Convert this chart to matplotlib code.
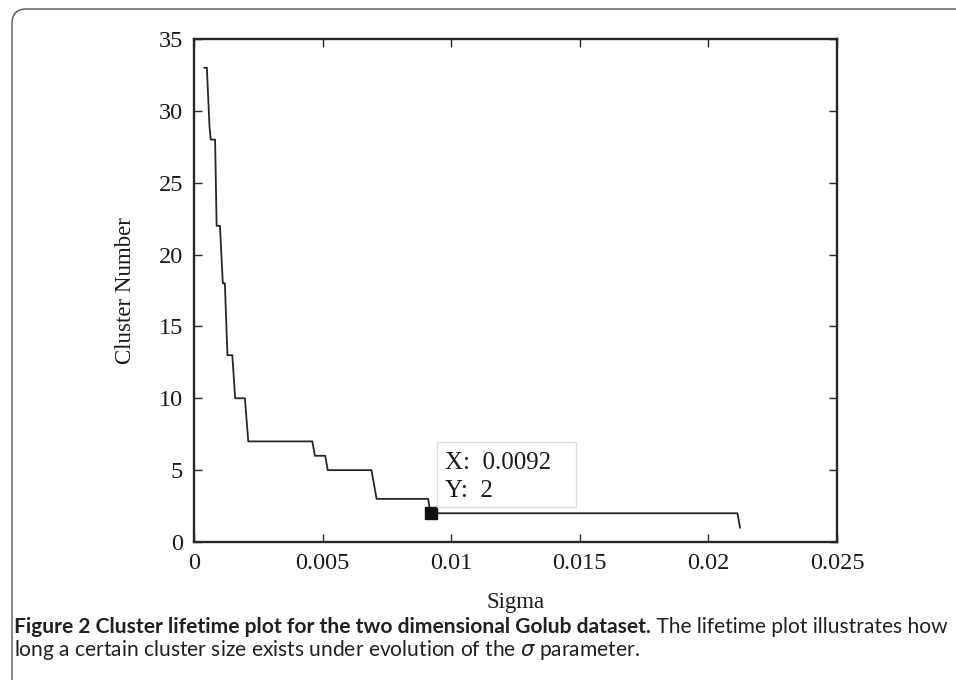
import matplotlib
matplotlib.use("Agg")
import matplotlib.pyplot as plt
from matplotlib.patches import Rectangle, FancyBboxPatch

sigma = [0.00040, 0.00050, 0.00055, 0.00060, 0.00065, 0.00082, 0.00088, 0.00101,
         0.00112, 0.00120, 0.00130, 0.00149, 0.00160, 0.00198, 0.00211, 0.00460,
         0.00470, 0.00510, 0.00520, 0.00690, 0.00710, 0.00910, 0.00920, 0.02113,
         0.02123]
clusters = [33, 33, 31, 29, 28, 28, 22, 22,
            18, 18, 13, 13, 10, 10, 7, 7,
            6, 6, 5, 5, 3, 3, 2, 2,
            1]
tip_x = 0.0092
tip_y = 2
xticks = [0, 0.005, 0.01, 0.015, 0.02, 0.025]
xticklabels = ["0", "0.005", "0.01", "0.015", "0.02", "0.025"]
yticks = [0, 5, 10, 15, 20, 25, 30, 35]

W, H = 956, 680
fig = plt.figure(figsize=(W / 100, H / 100), dpi=100)
serif = "Liberation Serif"

ax = fig.add_axes([194 / W, 1 - 542 / H, 643 / W, 503 / H])
ax.plot(sigma, clusters, color="#262626", lw=1.3)
ax.plot([tip_x], [tip_y], marker="s", color="#111111", markersize=8.4, ls="none")
ax.set_xlim(0, 0.025)
ax.set_ylim(0, 35)
ax.set_xticks(xticks)
ax.set_xticklabels(xticklabels)
ax.set_yticks(yticks)
for s in ax.spines.values():
    s.set_linewidth(1.7)
    s.set_color("#262626")
ax.tick_params(direction="in", top=True, right=True, length=6, width=1.0,
               colors="#2a2a2a", labelcolor="#1a1a1a", labelsize=17.5, pad=8)
for lab in ax.get_xticklabels() + ax.get_yticklabels():
    lab.set_fontfamily(serif)
ax.set_xlabel("Sigma", fontfamily=serif, fontsize=16.5, labelpad=13, color="#1a1a1a")
ax.set_ylabel("Cluster Number", fontfamily=serif, fontsize=16.5, labelpad=16, color="#1a1a1a")

# data tip box
ax.add_patch(Rectangle((0.378, 0.0696), 0.216, 0.129, transform=ax.transAxes,
                       facecolor="white", edgecolor="#dddddd", lw=1.0, zorder=5))
ax.text(0.390, 0.157, "X:  0.0092", transform=ax.transAxes, fontfamily=serif,
        fontsize=18, va="center", ha="left", zorder=6, color="#1a1a1a")
ax.text(0.390, 0.101, "Y:  2", transform=ax.transAxes, fontfamily=serif,
        fontsize=18, va="center", ha="left", zorder=6, color="#1a1a1a")

# frame
fig.patches.append(FancyBboxPatch((12 / W, -0.1), 1.2, (H - 9) / H + 0.1,
                                  boxstyle="round,pad=0,rounding_size=0.015",
                                  transform=fig.transFigure, facecolor="none",
                                  edgecolor="#555555", lw=1.0, mutation_aspect=W / H))

# caption
sans = "Lato"
bold_txt = "Figure 2 Cluster lifetime plot for the two dimensional Golub dataset."
norm_txt = " The lifetime plot illustrates how"
line2 = "long a certain cluster size exists under evolution of the $\\sigma$ parameter."
fs = 12
renderer = fig.canvas.get_renderer()
tb = fig.text(14 / W, 1 - 627 / H, bold_txt, fontfamily=sans, fontweight="bold",
              fontsize=fs, va="center", ha="left", color="#231f20")
wb = tb.get_window_extent(renderer).width
tn = fig.text(14 / W, 1 - 627 / H, norm_txt, fontfamily=sans, fontsize=fs,
              va="center", ha="left", color="#231f20")
wn = tn.get_window_extent(renderer).width
scale = 930 / (wb + wn)
fs2 = fs * scale
tb.set_fontsize(fs2)
tn.set_fontsize(fs2)
wb = tb.get_window_extent(renderer).width
tn.set_x((14 + wb) / W)
fig.text(14 / W, 1 - 650 / H, line2, fontfamily=sans, fontsize=fs2,
         va="center", ha="left", color="#231f20")

fig.savefig("out.png", dpi=100)
